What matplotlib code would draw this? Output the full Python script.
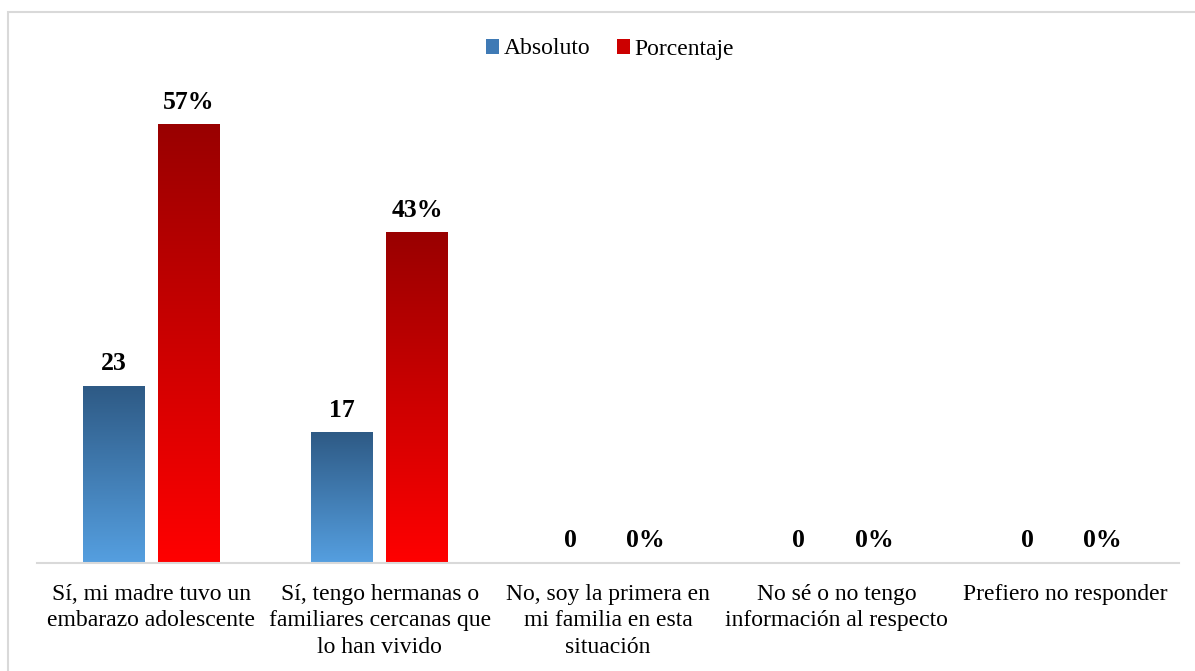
import matplotlib.pyplot as plt
import numpy as np
from matplotlib.colors import LinearSegmentedColormap
from matplotlib.patches import Rectangle, Patch

plt.rcParams['font.family'] = ['Liberation Serif', 'DejaVu Serif']

categorias = [
    "Sí, mi madre tuvo un\nembarazo adolescente",
    "Sí, tengo hermanas o\nfamiliares cercanas que\nlo han vivido",
    "No, soy la primera en\nmi familia en esta\nsituación",
    "No sé o no tengo\ninformación al respecto",
    "Prefiero no responder",
]
absoluto = [23, 17, 0, 0, 0]
porcentaje = [57, 43, 0, 0, 0]
series = ["Absoluto", "Porcentaje"]

# degradados (arriba -> abajo)
azul = LinearSegmentedColormap.from_list("azul", ["#559FE0", "#2E5A85"])
rojo = LinearSegmentedColormap.from_list("rojo", ["#FF0000", "#990000"])

W, H = 1195, 671
fig = plt.figure(figsize=(W / 100, H / 100), dpi=100)
fig.patches.append(Rectangle((8 / W, -0.01), 1.02, 1 - 12 / H + 0.01,
                             transform=fig.transFigure, fill=False,
                             edgecolor="#D9D9D9", linewidth=1.5))
ax = fig.add_axes([37 / W, 1 - 563 / H, 1142 / W, (563 - 25) / H])

x = np.arange(len(categorias))
ancho = 0.27
desp = 0.165
grad = np.linspace(0, 1, 256).reshape(-1, 1)


def barras(pos, vals, cmap, fmt):
    for xi, v in zip(pos, vals):
        if v > 0:
            ax.imshow(grad, cmap=cmap, origin="lower", aspect="auto",
                      extent=[xi - ancho / 2, xi + ancho / 2, 0, v], zorder=2)
        ax.text(xi, v + 1.4, fmt.format(v), ha="center", va="bottom",
                fontsize=18.5, fontweight="bold", zorder=3)


barras(x - desp, absoluto, azul, "{}")
barras(x + desp, porcentaje, rojo, "{}%")

ax.set_xlim(-0.5, len(categorias) - 0.5)
ax.set_ylim(0, 70)
ax.set_xticks(x)
ax.set_xticklabels(categorias, fontsize=17, linespacing=1.35)
ax.tick_params(axis="x", length=0, pad=15)
ax.set_yticks([])
for s in ["top", "right", "left"]:
    ax.spines[s].set_visible(False)
ax.spines["bottom"].set_color("#D9D9D9")
ax.spines["bottom"].set_linewidth(1.5)

handles = [Patch(facecolor="#3F7AB5", label=series[0]),
           Patch(facecolor="#CC0000", label=series[1])]
fig.legend(handles=handles, loc="center", bbox_to_anchor=(610 / W, 1 - 49 / H),
           ncol=2, frameon=False, fontsize=17, handlelength=0.55,
           handleheight=0.6, handletextpad=0.17, columnspacing=1.15)

fig.savefig("out.png", dpi=100)
